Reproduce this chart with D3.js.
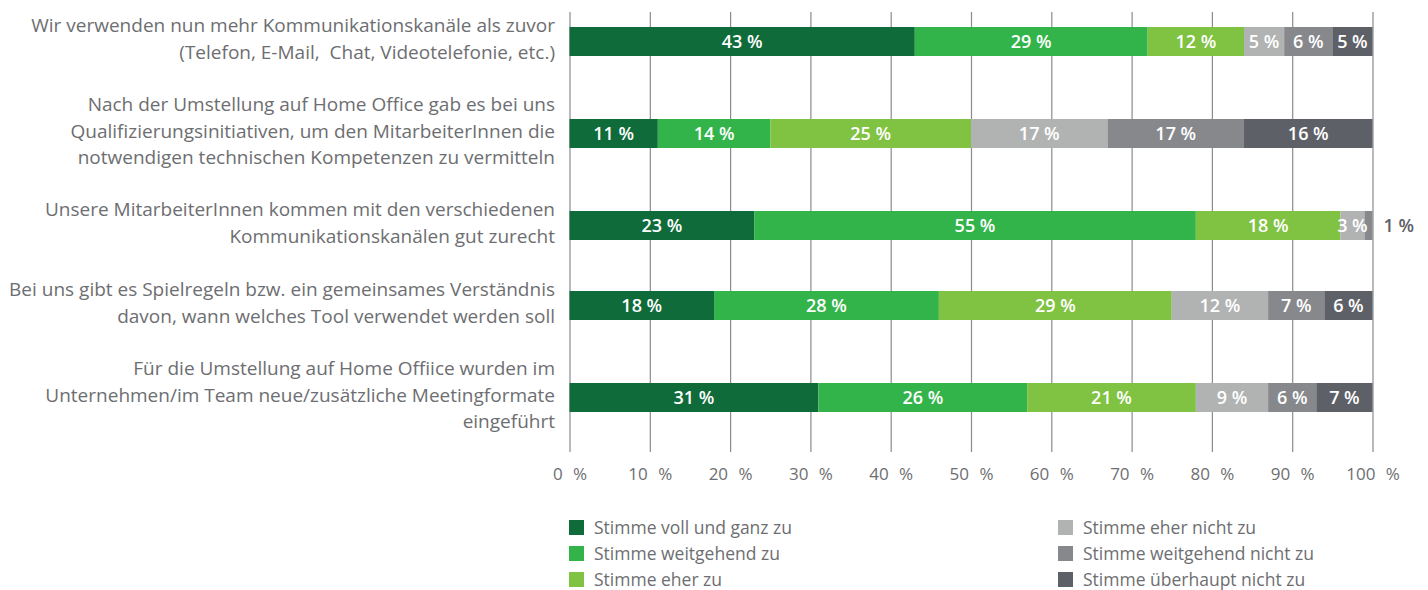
<!DOCTYPE html>
<head>
  <meta charset="utf-8">
  <script src="https://d3js.org/d3.v7.min.js"></script>
  <style>
    body { margin: 0; background: #fff; }
    text { font-family: "Open Sans", sans-serif; }
    text.catLabel { font-size: 19px; fill: #6d6e71; }
    text.segLabel { font-size: 18px; font-weight: 600; fill: #ffffff; }
    text.outLabel { font-size: 18px; font-weight: 600; fill: #5e6068; }
    .xAxis .tick text { font-size: 17px; fill: #6d6e71; word-spacing: 6px; }
    .xAxis .tick line { stroke: #8a8b8e; stroke-width: 1.2; }
    .xAxis path.domain { display: none; }
    text.legendText { font-size: 17.5px; fill: #6d6e71; }
  </style>
</head>
<body>
<script>
// categories, one entry per bar, split into the lines shown
const categoryLines = [
  ['Wir verwenden nun mehr Kommunikationskanäle als zuvor', '(Telefon, E-Mail,  Chat, Videotelefonie, etc.)'],
  ['Nach der Umstellung auf Home Office gab es bei uns', 'Qualifizierungsinitiativen, um den MitarbeiterInnen die', 'notwendigen technischen Kompetenzen zu vermitteln'],
  ['Unsere MitarbeiterInnen kommen mit den verschiedenen', 'Kommunikationskanälen gut zurecht'],
  ['Bei uns gibt es Spielregeln bzw. ein gemeinsames Verständnis', 'davon, wann welches Tool verwendet werden soll'],
  ['Für die Umstellung auf Home Offiice wurden im', 'Unternehmen/im Team neue/zusätzliche Meetingformate', 'eingeführt']
];
const categories = categoryLines.map(l => l.join(' '));

const seriesNames = ['Stimme voll und ganz zu', 'Stimme weitgehend zu', 'Stimme eher zu',
                     'Stimme eher nicht zu', 'Stimme weitgehend nicht zu', 'Stimme überhaupt nicht zu'];
const seriesColors = ['#0f6b3a', '#33b44a', '#80c241', '#b1b3b3', '#86888c', '#5e6068'];

const volluGanz       = [43, 11, 23, 18, 31];
const weitgehend      = [29, 14, 55, 28, 26];
const eher            = [12, 25, 18, 29, 21];
const eherNicht       = [5, 17, 3, 12, 9];
const weitgehendNicht = [6, 17, 1, 7, 6];
const ueberhauptNicht = [5, 16, 0, 6, 7];
const seriesValues = [volluGanz, weitgehend, eher, eherNicht, weitgehendNicht, ueberhauptNicht];

const tickValues = [0, 10, 20, 30, 40, 50, 60, 70, 80, 90, 100];

const width = 1428, height = 590;
const svg = d3.select('body').append('svg')
  .attr('width', width)
  .attr('height', height);

const plotLeft = 569.5, plotRight = 1372.5;
const gridTop = 12, gridBottom = 452;
const barH = 29, lineH = 26.5;

// rows take room according to how many label lines they have
let acc = 1.5;
const centers = categoryLines.map(l => {
  const h = 32 + 24 * l.length;
  const c = acc + h / 2;
  acc += h;
  return c;
});

const x = d3.scaleLinear().domain([0, 100]).range([plotLeft, plotRight]);
const y = d3.scaleOrdinal().domain(categories).range(centers);
const color = d3.scaleOrdinal().domain(seriesNames).range(seriesColors);

// table for the stack
const table = categories.map((c, i) => {
  const row = { cat: c };
  seriesNames.forEach((s, j) => row[s] = seriesValues[j][i]);
  return row;
});
const stacked = d3.stack().keys(seriesNames)(table);

// grid + axis
const xAxis = d3.axisBottom(x)
  .tickValues(tickValues)
  .tickSize(gridBottom - gridTop)
  .tickPadding(16)
  .tickFormat(d => d + ' %');

svg.append('g')
  .attr('class', 'axis xAxis')
  .attr('transform', `translate(0, ${gridTop})`)
  .call(xAxis);

// bars
const layers = svg.selectAll('g.layer')
  .data(stacked)
  .enter()
  .append('g')
  .attr('class', 'layer')
  .style('fill', d => color(d.key));

layers.selectAll('rect')
  .data(d => d)
  .enter()
  .append('rect')
  .attr('x', d => x(d[0]))
  .attr('width', d => x(d[1]) - x(d[0]))
  .attr('y', d => y(d.data.cat) - barH / 2)
  .attr('height', barH);

// value labels
stacked.forEach(layer => {
  layer.forEach(d => {
    const v = d[1] - d[0];
    if (v <= 0) return;
    if (v < 2) {
      svg.append('text')
        .attr('class', 'outLabel')
        .attr('x', x(100) + 11)
        .attr('y', y(d.data.cat) + 6.5)
        .text(v + ' %');
    } else {
      svg.append('text')
        .attr('class', 'segLabel')
        .attr('x', (x(d[0]) + x(d[1])) / 2)
        .attr('y', y(d.data.cat) + 6.5)
        .style('text-anchor', 'middle')
        .text(v + ' %');
    }
  });
});

// category labels
categoryLines.forEach((lines, i) => {
  const c = y(categories[i]);
  const t = svg.append('text')
    .attr('class', 'catLabel')
    .style('text-anchor', 'end')
    .attr('xml:space', 'preserve');
  lines.forEach((l, k) => {
    t.append('tspan')
      .attr('x', 555)
      .attr('y', c + (k - (lines.length - 1) / 2) * lineH + 4)
      .text(l);
  });
});

// legend
const legend = svg.selectAll('g.legendItem')
  .data(seriesNames)
  .enter()
  .append('g')
  .attr('class', 'legendItem')
  .attr('transform', (d, i) => `translate(${i < 3 ? 569 : 1058}, ${520 + (i % 3) * 26})`);

legend.append('rect')
  .attr('width', 15)
  .attr('height', 15)
  .style('fill', d => color(d));

legend.append('text')
  .attr('class', 'legendText')
  .attr('x', 25)
  .attr('y', 13.5)
  .text(d => d);
</script>
</body>
